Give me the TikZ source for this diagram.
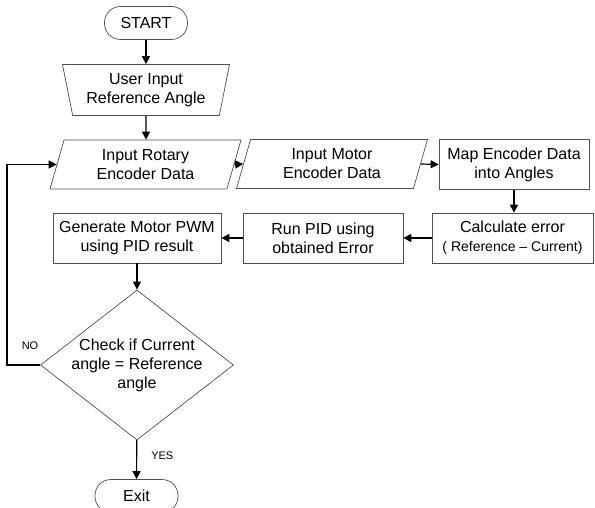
\documentclass[tikz,border=0pt]{standalone}
\usepackage{fontspec}
\setmainfont{Liberation Sans}
\usepackage{tikz}
\usetikzlibrary{arrows.meta,positioning,shapes.geometric}
\definecolor{edgegray}{HTML}{505050}

\begin{document}
\begin{tikzpicture}[x=1pt, y=-1pt,
  every node/.style={font=\fontsize{16}{19}\selectfont, align=center, inner sep=0pt},
  termbox/.style={draw=edgegray, line width=0.7pt, fill=white, rounded corners=16pt, minimum width=83pt, minimum height=33pt},
  procbox/.style={draw=edgegray, line width=0.7pt, fill=white, rectangle, minimum height=50pt},
  iobox/.style={draw=edgegray, line width=0.7pt, fill=white, trapezium, trapezium stretches body, trapezium left angle=65, trapezium right angle=115, minimum width=191pt, minimum height=49pt},
  decision/.style={draw=edgegray, line width=0.7pt, fill=white, diamond, aspect=1.287, inner sep=-10pt, minimum width=193pt, minimum height=150pt},
  flow/.style={-{Triangle[length=8pt,width=8pt]}, line width=1.2pt, black},
  tag/.style={font=\fontsize{11}{13}\selectfont}]
  \useasboundingbox (0,0) rectangle (595,508);
  % main column
  \node[termbox] (start) at (146,23) {START};
  \node[draw=edgegray, line width=0.7pt, fill=white, trapezium, trapezium stretches body, shape border rotate=180, trapezium left angle=73, trapezium right angle=73, minimum width=167pt, minimum height=51pt] (userin) at (146,90) {User Input\\Reference Angle};
  \node[iobox] (rotary) at (145.5,164.5) {Input Rotary\\Encoder Data};
  \node[iobox] (motor) at (332,164) {Input Motor\\Encoder Data};
  \node[procbox, minimum width=150pt] (mapang) at (514,164.5) {Map Encoder Data\\into Angles};
  \node[procbox, minimum width=161pt] (calcerr) at (512.5,238) {Calculate error\\{\fontsize{14}{17}\selectfont ( Reference -- Current)}};
  \node[procbox, minimum width=160pt] (runpid) at (323,238) {Run PID using\\obtained Error};
  \node[procbox, minimum width=168pt] (genpwm) at (137,238) {Generate Motor PWM\\using PID result};
  \node[decision] (check) at (137,365) {Check if Current\\angle = Reference\\angle};
  \node[termbox] (exit) at (136.5,496) {Exit};
  \coordinate (loop) at (7,365);

  \draw[flow] (start) -- (userin);
  \draw[flow] (userin) -- (userin |- rotary.north);
  \draw[flow] (rotary.east) -- (motor.west);
  \draw[flow] (motor.east) -- (mapang.west);
  \draw[flow] (mapang) -- (mapang |- calcerr.north);
  \draw[flow] (calcerr) -- (runpid);
  \draw[flow] (runpid) -- (genpwm);
  \draw[flow] (genpwm) -- (check);
  \draw[flow] (check) -- node[tag, right=14pt, pos=0.4] (yes) {YES} (exit);
  \draw[flow] (check.west) -- (loop) |- (rotary.west);
  \node[tag] (no) at (30,346) {NO};
\end{tikzpicture}
\end{document}
